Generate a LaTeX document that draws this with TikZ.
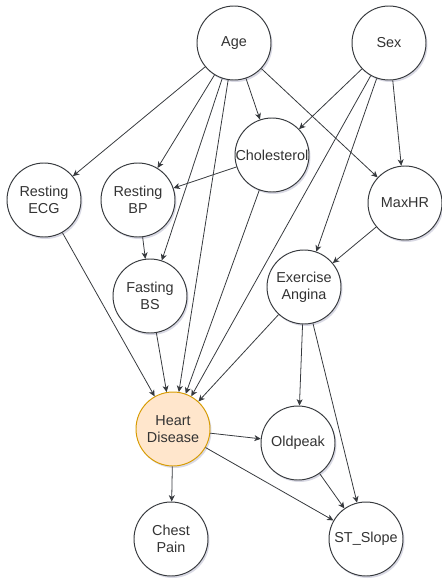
\documentclass[tikz,border=0pt]{standalone}
\usepackage{fontspec}
\setmainfont{Liberation Sans}
\usetikzlibrary{arrows.meta,shadows}
\definecolor{hdfill}{HTML}{FFE6CC}
\definecolor{hdline}{HTML}{D79B00}
\definecolor{txtgray}{HTML}{333333}
\definecolor{edgegray}{HTML}{36393D}
\begin{document}
\begin{tikzpicture}[
  varnode/.style={circle, draw=edgegray, line width=0.55pt, fill=white, minimum size=1.48cm, inner sep=0pt,
    align=center, text=txtgray, font=\fontsize{8.2}{9.8}\selectfont,
    drop shadow={shadow xshift=0.03cm, shadow yshift=-0.04cm, opacity=0.15, fill=blue!30!black}},
  targetnode/.style={varnode, fill=hdfill, draw=hdline},
  edge/.style={-{Stealth[length=3.6pt,width=3.4pt,inset=1pt]}, draw=edgegray, line width=0.45pt}
]
\useasboundingbox (0,0) rectangle (8.84,-11.66);

% Variable nodes
\node[varnode] (age) at (4.68,-0.86) {Age};
\node[varnode] (sex) at (7.78,-0.86) {Sex};
\node[varnode] (chol) at (5.44,-3.10) {Cholesterol};
\node[varnode] (ecg) at (0.88,-4.00) {Resting\\ECG};
\node[varnode] (bp) at (2.76,-4.00) {Resting\\BP};
\node[varnode] (maxhr) at (8.10,-4.06) {MaxHR};
\node[varnode] (fbs) at (3.00,-5.92) {Fasting\\BS};
\node[varnode] (angina) at (6.08,-5.74) {Exercise\\Angina};
\node[targetnode] (hd) at (3.46,-8.58) {Heart\\Disease};
\node[varnode] (oldpeak) at (5.96,-8.86) {Oldpeak};
\node[varnode] (chest) at (3.42,-10.78) {Chest\\Pain};
\node[varnode] (slope) at (7.32,-10.78) {ST\_Slope};

% Edges from Age
\draw[edge] (age) -- (ecg);
\draw[edge] (age) -- (bp);
\draw[edge] (age) -- (fbs);
\draw[edge] (age) -- (hd);
\draw[edge] (age) -- (chol);
\draw[edge] (age) -- (maxhr);

% Edges from Sex
\draw[edge] (sex) -- (chol);
\draw[edge] (sex) -- (hd);
\draw[edge] (sex) -- (angina);
\draw[edge] (sex) -- (maxhr);

% Middle layer
\draw[edge] (chol) -- (bp);
\draw[edge] (chol) -- (hd);
\draw[edge] (bp) -- (fbs);
\draw[edge] (ecg) -- (hd);
\draw[edge] (fbs) -- (hd);
\draw[edge] (maxhr) -- (angina);
\draw[edge] (angina) -- (hd);
\draw[edge] (angina) -- (oldpeak);
\draw[edge] (angina) -- (slope);

% Edges from Heart Disease
\draw[edge] (hd) -- (oldpeak);
\draw[edge] (hd) -- (chest);
\draw[edge] (hd) -- (slope);
\draw[edge] (oldpeak) -- (slope);

\end{tikzpicture}
\end{document}
